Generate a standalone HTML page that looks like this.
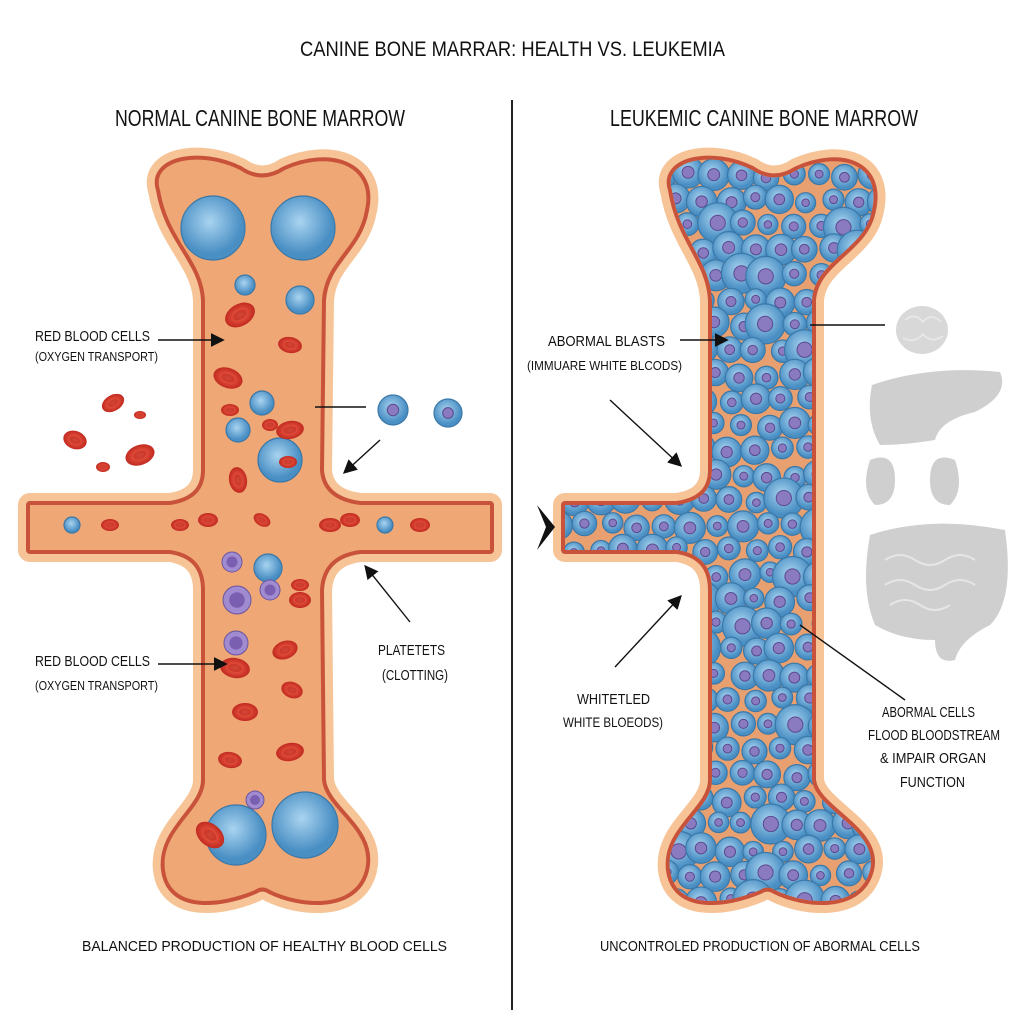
<!DOCTYPE html>
<html><head><meta charset="utf-8"><style>
html,body{margin:0;padding:0;background:#fff;width:1024px;height:1024px;overflow:hidden}
svg{display:block}
text{font-family:"Liberation Sans Narrow","Liberation Sans",sans-serif;fill:#111}
</style></head><body>
<svg id="s" width="1024" height="1024" viewBox="0 0 1024 1024" xmlns="http://www.w3.org/2000/svg">
<defs>
<path id="boneL" d="M160 190 C150 160 200 150 240 170 Q262 185 285 170 C330 150 375 165 365 210 C358 250 325 260 322 300 L320 470 Q322 500 360 505 L490 505 L490 550 L360 550 Q322 555 320 590 L322 780 C325 810 375 830 365 870 C355 910 300 905 270 890 Q262 885 255 890 C220 905 170 910 165 870 C160 830 205 810 205 780 L205 590 Q205 555 170 550 L30 550 L30 505 L170 505 Q205 500 205 470 L205 300 C203 260 168 240 160 190 Z"/>
<path id="boneR" d="M672 190 C662 160 712 150 752 170 Q774 185 797 170 C842 150 882 165 872 210 C865 250 815 260 812 300 L812 780 C815 810 880 830 870 870 C860 910 805 905 775 890 Q767 885 760 890 C725 905 675 910 670 870 C665 830 712 810 712 780 L712 590 Q712 555 677 550 L565 550 L565 505 L677 505 Q712 500 712 470 L712 300 C710 260 680 240 672 190 Z"/>
<clipPath id="cL"><use href="#boneL"/></clipPath>
<clipPath id="cR"><use href="#boneR"/></clipPath>
<marker id="ar" markerWidth="10" markerHeight="10" refX="8" refY="5" orient="auto"><path d="M0 0 L10 5 L0 10 Z" fill="#111"/></marker>
<radialGradient id="bl" cx="45%" cy="40%"><stop offset="0" stop-color="#a9d4f0"/><stop offset="1" stop-color="#4a8fc4"/></radialGradient>
<radialGradient id="rb" cx="50%" cy="50%"><stop offset="0" stop-color="#f06850"/><stop offset="0.45" stop-color="#e04a38"/><stop offset="1" stop-color="#c02a20"/></radialGradient>
</defs>
<text x="300" y="56" font-size="21" textLength="425" lengthAdjust="spacingAndGlyphs">CANINE BONE MARRAR: HEALTH VS. LEUKEMIA</text>
<line x1="512" y1="100" x2="512" y2="1010" stroke="#222" stroke-width="2"/>
<text x="115" y="126" font-size="23" textLength="290" lengthAdjust="spacingAndGlyphs">NORMAL CANINE BONE MARROW</text>
<text x="610" y="126" font-size="23" textLength="308" lengthAdjust="spacingAndGlyphs">LEUKEMIC CANINE BONE MARROW</text>

<g id="bones">
<use href="#boneL" fill="none" stroke="#f6c497" stroke-width="24" stroke-linejoin="round"/>
<use href="#boneL" fill="none" stroke="#c8533a" stroke-width="8" stroke-linejoin="round"/>
<use href="#boneL" fill="#eea775"/>
<use href="#boneR" fill="none" stroke="#f6c497" stroke-width="24" stroke-linejoin="round"/>
<use href="#boneR" fill="none" stroke="#c8533a" stroke-width="8" stroke-linejoin="round"/>
<use href="#boneR" fill="#e9a070"/>
</g>
<g id="gL" clip-path="url(#cL)"></g>
<g id="gR" clip-path="url(#cR)"></g>
<g id="free"></g>

<!-- organs -->
<g fill="#cfcfcf">
<ellipse cx="922" cy="330" rx="26" ry="24" fill="#d8d8d8"/>
<path d="M872 385 Q930 365 1000 372 Q1010 395 975 412 Q940 420 935 440 Q905 445 880 445 Q865 420 872 385 Z"/>
<path d="M870 460 Q895 450 895 480 Q895 505 875 505 Q860 490 870 460 Z"/>
<path d="M955 460 Q930 450 930 480 Q930 505 950 505 Q965 490 955 460 Z"/>
<path d="M870 535 Q930 515 1005 530 Q1015 600 990 625 Q960 640 955 660 Q935 665 935 640 Q900 640 875 625 Q860 590 870 535 Z"/>
</g>
<g fill="none" stroke="#e6e6e6" stroke-width="2"><path d="M905 320 q10 -8 18 2 q8 -10 18 0 M903 338 q12 6 20 -4 q8 10 20 2"/><path d="M885 560 q15 -10 30 0 q15 10 30 0 q15 -10 30 0 M885 585 q15 -10 30 0 q15 10 30 0 q15 -10 30 0 M890 605 q15 -10 30 0 q15 10 30 0"/></g>

<g font-size="15" lengthAdjust="spacingAndGlyphs">
<text x="35" y="341" textLength="115" lengthAdjust="spacingAndGlyphs">RED BLOOD CELLS</text>
<text x="35" y="361" font-size="13" textLength="123" lengthAdjust="spacingAndGlyphs">(OXYGEN TRANSPORT)</text>
<text x="35" y="666" textLength="115" lengthAdjust="spacingAndGlyphs">RED BLOOD CELLS</text>
<text x="35" y="690" font-size="13" textLength="123" lengthAdjust="spacingAndGlyphs">(OXYGEN TRANSPORT)</text>
<text x="378" y="655" textLength="67" lengthAdjust="spacingAndGlyphs">PLATETETS</text>
<text x="382" y="680" textLength="66" lengthAdjust="spacingAndGlyphs">(CLOTTING)</text>
<text x="548" y="346" textLength="117" lengthAdjust="spacingAndGlyphs">ABORMAL BLASTS</text>
<text x="527" y="370" font-size="13" textLength="155" lengthAdjust="spacingAndGlyphs">(IMMUARE WHITE BLCODS)</text>
<text x="577" y="704" textLength="73" lengthAdjust="spacingAndGlyphs">WHITETLED</text>
<text x="563" y="727" font-size="14" textLength="100" lengthAdjust="spacingAndGlyphs">WHITE BLOEODS)</text>
<text x="882" y="717" textLength="93" lengthAdjust="spacingAndGlyphs">ABORMAL CELLS</text>
<text x="868" y="740" textLength="132" lengthAdjust="spacingAndGlyphs">FLOOD BLOODSTREAM</text>
<text x="880" y="763" textLength="106" lengthAdjust="spacingAndGlyphs">&amp; IMPAIR ORGAN</text>
<text x="900" y="787" textLength="65" lengthAdjust="spacingAndGlyphs">FUNCTION</text>
<text x="82" y="951" textLength="365" lengthAdjust="spacingAndGlyphs">BALANCED PRODUCTION OF HEALTHY BLOOD CELLS</text>
<text x="600" y="951" textLength="320" lengthAdjust="spacingAndGlyphs">UNCONTROLED PRODUCTION OF ABORMAL CELLS</text>
</g>
<g stroke="#111" stroke-width="1.4" fill="none">
<line x1="158" y1="340" x2="222" y2="340" marker-end="url(#ar)"/>
<line x1="158" y1="664" x2="225" y2="664" marker-end="url(#ar)"/>
<line x1="315" y1="407" x2="366" y2="407"/>
<line x1="380" y1="440" x2="345" y2="472" marker-end="url(#ar)"/>
<line x1="410" y1="622" x2="366" y2="567" marker-end="url(#ar)"/>
<line x1="680" y1="340" x2="726" y2="340" marker-end="url(#ar)"/>
<line x1="610" y1="400" x2="680" y2="465" marker-end="url(#ar)"/>
<line x1="615" y1="667" x2="680" y2="597" marker-end="url(#ar)"/>
<line x1="810" y1="325" x2="885" y2="325"/>
<line x1="800" y1="625" x2="905" y2="700"/>
</g>
<path d="M537 505 L555 527 L537 550 L546 527 Z" fill="#111"/>
</svg>
<script>
(function(){
var NS="http://www.w3.org/2000/svg";
function el(p,t,a){var e=document.createElementNS(NS,t);for(var k in a)e.setAttribute(k,a[k]);p.appendChild(e);return e;}
var gL=document.getElementById('gL'),gR=document.getElementById('gR'),fr=document.getElementById('free');
function rbc(g,x,y,rx,ry,rot){el(g,'ellipse',{cx:x,cy:y,rx:rx,ry:ry,fill:'url(#rb)',transform:'rotate('+rot+' '+x+' '+y+')'});el(g,'ellipse',{cx:x,cy:y,rx:rx*0.45,ry:ry*0.4,fill:'#b3241c',opacity:0.5,transform:'rotate('+rot+' '+x+' '+y+')'});}
function blue(g,x,y,r,nuc){el(g,'circle',{cx:x,cy:y,r:r,fill:'url(#bl)',stroke:'#3a78a8','stroke-width':1.2});if(nuc)el(g,'circle',{cx:x,cy:y,r:r*0.38,fill:'#8a7ac0',stroke:'#5a4a90','stroke-width':1});}
blue(gL,213,228,32);blue(gL,303,228,32);blue(gL,236,835,30);blue(gL,305,825,33);blue(gL,280,460,22);
var R=[[240,315,16,11,-30],[228,378,15,10,20],[290,345,12,8,10],[238,480,13,9,80],[290,430,14,9,-10],[208,520,10,7,0],[262,520,9,6,30],[330,525,11,7,0],[288,462,9,6,0],[300,600,11,8,0],[235,668,15,10,10],[285,650,13,9,-20],[245,712,13,9,0],[292,690,11,8,20],[230,760,12,8,10],[290,752,14,9,-10],[210,835,16,11,40],[420,525,10,7,0],[350,520,10,7,0],[180,525,9,6,0],[110,525,9,6,0],[230,410,9,6,0],[300,585,9,6,0],[270,425,8,6,0]];
R.forEach(function(a){rbc(gL,a[0],a[1],a[2],a[3],a[4]);});
[[262,403,12],[238,430,12],[268,568,14],[245,285,10],[72,525,8],[385,525,8],[300,300,14]].forEach(function(a){blue(gL,a[0],a[1],a[2],false);});
[[232,562,10],[237,600,14],[236,643,12],[255,800,9],[270,590,10]].forEach(function(a){el(gL,'circle',{cx:a[0],cy:a[1],r:a[2],fill:'#a08ad0',stroke:'#6a55a0','stroke-width':1});el(gL,'circle',{cx:a[0],cy:a[1],r:a[2]*0.55,fill:'#7a5fb0'});});
[[113,403,12,8,-30],[140,415,6,4,0],[75,440,12,9,20],[103,467,7,5,0],[140,455,15,10,-20]].forEach(function(a){rbc(fr,a[0],a[1],a[2],a[3],a[4]);});
blue(fr,393,410,15,true);blue(fr,448,413,14,true);
var seed=7;function rnd(){seed=(seed*9301+49297)%233280;return seed/233280;}
for(var y=175;y<=905;y+=25){for(var x=560;x<=885;x+=26){var xx=x+(Math.floor((y-175)/25)%2)*13+(rnd()-0.5)*6,yy=y+(rnd()-0.5)*6;var r=10+rnd()*6;if(rnd()<0.08)r=20;blue(gR,xx,yy,r,true);}}
})();
</script>
</body></html>
